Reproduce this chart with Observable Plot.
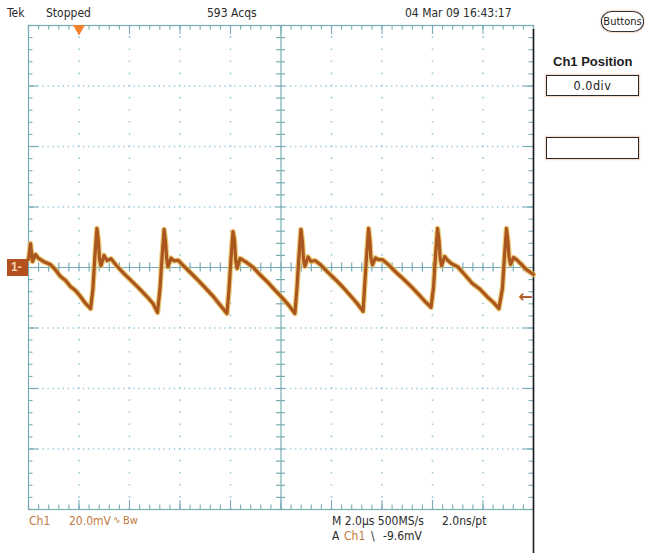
<!DOCTYPE html>
<html><head><meta charset="utf-8">
<script src="https://cdn.jsdelivr.net/npm/d3@7"></script>
<script src="https://cdn.jsdelivr.net/npm/@observablehq/plot@0.6"></script>
<style>
body{margin:0;background:#fff;}
#wrap{position:relative;width:645px;height:553px;overflow:hidden;font-family:"Liberation Sans Narrow","Arial Narrow","DejaVu Sans Condensed",sans-serif;}
#wrap svg{position:absolute;left:0;top:0;}
.t{position:absolute;white-space:nowrap;font-size:12px;line-height:1;color:#2b2b2b;}
.o{color:#c27b42;}
.box{position:absolute;box-sizing:border-box;border:1.5px solid #2a2a2a;box-shadow:0 0 1px 1px rgba(230,150,110,0.35);display:flex;align-items:center;justify-content:center;font-size:12.5px;color:#222;}
</style></head>
<body>
<div id="wrap"></div>
<script>
// ---- Data ----
const timeUs = [
  -10.00, -9.92, -9.84, -9.72, -9.60, -9.41, -9.13, -8.93, -8.73, -8.53, -8.34, -8.14, -7.94, -7.74, -7.54,
  -7.45, -7.37, -7.29, -7.23, -7.19, -7.13, -7.01, -6.89, -6.73, -6.50, -6.22, -5.90, -5.62, -5.31, -5.07, -4.89,
  -4.79, -4.71, -4.63, -4.57, -4.53, -4.48, -4.36, -4.24, -4.08, -3.84, -3.56, -3.25, -2.97, -2.65, -2.42, -2.14,
  -2.06, -1.98, -1.90, -1.84, -1.80, -1.74, -1.62, -1.50, -1.35, -1.11, -0.83, -0.51, -0.24, 0.08, 0.32, 0.55,
  0.63, 0.71, 0.79, 0.85, 0.89, 0.95, 1.07, 1.19, 1.35, 1.58, 1.86, 2.18, 2.46, 2.77, 3.01, 3.25,
  3.31, 3.39, 3.47, 3.52, 3.56, 3.62, 3.74, 3.86, 4.02, 4.26, 4.53, 4.85, 5.13, 5.45, 5.68, 5.94,
  6.04, 6.12, 6.20, 6.26, 6.30, 6.36, 6.48, 6.59, 6.75, 6.99, 7.27, 7.58, 7.86, 8.18, 8.42, 8.63,
  8.77, 8.85, 8.93, 8.99, 9.03, 9.09, 9.21, 9.33, 9.49, 9.72, 10.00
];
const ch1mV = [
  2.6, 7.9, 2.0, 4.3, 3.0, 2.0, 1.0, -0.8, -3.0, -4.3, -6.3, -7.6, -9.6, -11.9, -13.6,
  -7.2, 3.8, 12.9, 8.6, 2.8, 0.6, 4.0, 2.3, 2.9, 0.5, -2.0, -4.6, -6.9, -9.6, -11.9, -14.9,
  -6.8, 3.4, 12.6, 8.2, 3.1, 0.2, 3.1, 2.2, 2.4, 0.4, -1.9, -4.5, -7.0, -9.9, -12.3, -15.2,
  -7.4, 3.0, 11.9, 8.8, 2.9, -0.3, 3.0, 2.4, 1.6, 0.1, -2.4, -5.0, -7.5, -10.3, -12.6, -15.2,
  -7.1, 3.6, 12.6, 8.4, 2.6, 0.4, 3.5, 2.0, 2.3, 0.8, -1.6, -4.2, -6.6, -9.5, -11.8, -14.5,
  -6.5, 3.9, 12.9, 8.9, 3.2, 0.9, 3.2, 2.6, 2.6, 0.9, -1.4, -3.8, -6.1, -8.9, -11.0, -13.2,
  -6.6, 4.0, 12.9, 8.7, 3.3, 0.6, 3.6, 2.5, 1.3, 0.3, -2.3, -5.3, -7.0, -9.8, -11.6, -13.6,
  -6.9, 3.7, 12.9, 8.4, 3.6, 1.0, 3.3, 2.6, 1.3, -0.7, -2.3
];
// graticule: 10 horizontal divisions of 2.0 µs, 8 vertical divisions of 20.0 mV
const xDivs = [-10, -8, -6, -4, -2, 0, 2, 4, 6, 8, 10];
const yDivs = [-80, -60, -40, -20, 0, 20, 40, 60, 80];
const triggerPosUs = [-8];
const triggerLevelMv = [-9.6];
const headerTexts = ["Tek", "Stopped", "593 Acqs", "04 Mar 09 16:43:17"];

const data = timeUs.map((t, i) => ({t, v: ch1mV[i]}));
const xMinor = d3.range(-10, 10.001, 0.4).map(d => +d.toFixed(2));
const yMinor = d3.range(-80, 80.001, 4).map(d => +d.toFixed(2));
const xGrid = xDivs.filter(d => d !== 0 && Math.abs(d) !== 10);
const yGrid = yDivs.filter(d => d !== 0 && Math.abs(d) !== 80);

const teal = "#79adb6";
const pxX = 20 / 505;   // µs per pixel
const pxY = 160 / 484;  // mV per pixel

const chart = Plot.plot({
  width: 645, height: 553,
  marginLeft: 28, marginRight: 112, marginTop: 25, marginBottom: 44,
  x: {domain: [-10, 10], axis: null},
  y: {domain: [-80, 80], axis: null},
  style: {background: "white", overflow: "visible"},
  marks: [
    // dotted graticule
    Plot.ruleX(xGrid, {stroke: "#9ccbdc", strokeWidth: 1.6, strokeDasharray: "1.6,10.5", strokeDashoffset: 0.8}),
    Plot.ruleY(yGrid, {stroke: "#9ccbdc", strokeWidth: 1.6, strokeDasharray: "1.4,3.65", strokeDashoffset: 0.7}),
    // centre axes
    Plot.ruleX([0], {stroke: teal, strokeWidth: 1.2}),
    Plot.ruleY([0], {stroke: teal, strokeWidth: 1.2}),
    Plot.ruleX(xMinor, {y1: -4.5 * pxY, y2: 4.5 * pxY, stroke: teal, strokeWidth: 1.2}),
    Plot.ruleY(yMinor, {x1: -4.5 * pxX, x2: 4.5 * pxX, stroke: teal, strokeWidth: 1.2}),
    // border ticks
    Plot.ruleX(xMinor, {y1: 80, y2: 80 - 4.5 * pxY, stroke: teal, strokeWidth: 1.1}),
    Plot.ruleX(xMinor, {y1: -80, y2: -80 + 4.5 * pxY, stroke: teal, strokeWidth: 1.1}),
    Plot.ruleX(xDivs, {y1: 80, y2: 80 - 9 * pxY, stroke: teal, strokeWidth: 1.1}),
    Plot.ruleX(xDivs, {y1: -80, y2: -80 + 9 * pxY, stroke: teal, strokeWidth: 1.1}),
    Plot.ruleY(yMinor, {x1: -10, x2: -10 + 4.5 * pxX, stroke: teal, strokeWidth: 1.1}),
    Plot.ruleY(yMinor, {x1: 10, x2: 10 - 4.5 * pxX, stroke: teal, strokeWidth: 1.1}),
    Plot.ruleY(yDivs, {x1: -10, x2: -10 + 10 * pxX, stroke: teal, strokeWidth: 1.1}),
    Plot.ruleY(yDivs, {x1: 10, x2: 10 - 10 * pxX, stroke: teal, strokeWidth: 1.1}),
    Plot.frame({stroke: teal, strokeWidth: 1.2}),
    // right edge dark line
    Plot.ruleX([10], {stroke: "#1b1b1b", strokeWidth: 1.6, insetTop: 4, insetBottom: -44}),
    // waveform
    Plot.line(data, {x: "t", y: "v", stroke: "#e9bd55", strokeWidth: 5.5, strokeOpacity: 0.8, strokeLinejoin: "round"}),
    Plot.line(data, {x: "t", y: "v", stroke: "#a9561f", strokeWidth: 3.2, strokeLinejoin: "round"}),
    // trigger position marker
    Plot.dot(triggerPosUs, {x: d => d, y: 80, symbol: "triangle", rotate: 180, r: 4.5, fill: "#f0822e", stroke: "none", dy: 3}),
    // trigger level arrow
    Plot.text(triggerLevelMv, {x: 10, y: d => d, text: () => "←", dx: -8, fill: "#b0602a", fontSize: 17, fontFamily: "DejaVu Sans", fontWeight: "bold"})
  ]
});

const wrap = document.getElementById("wrap");
wrap.appendChild(chart);

function addText(txt, left, baseline, cls, extra) {
  const el = document.createElement("div");
  el.className = "t " + (cls || "");
  el.textContent = txt;
  el.style.left = left + "px";
  el.style.top = (baseline - 10) + "px";
  if (extra) Object.assign(el.style, extra);
  wrap.appendChild(el);
  return el;
}
// header
addText(headerTexts[0], 7, 17);
addText(headerTexts[1], 46, 17);
addText(headerTexts[2], 207, 17);
addText(headerTexts[3], 405, 17);
// footer
addText("Ch1", 29, 525, "o");
addText("20.0mV", 69, 525, "o");
addText("∿", 113, 525, "o", {fontSize: "10px"});
addText("Bw", 123, 525, "o", {fontSize: "11px"});
addText("M 2.0µs 500MS/s", 332, 525);
addText("2.0ns/pt", 442, 525);
addText("A", 332, 540);
addText("Ch1", 344, 540, "o");
addText("\\", 371, 540);
addText("-9.6mV", 383, 540);
// right panel
addText("Ch1 Position", 553, 65, "", {fontFamily: "'Liberation Sans',Arial,sans-serif", fontWeight: "bold", fontSize: "13px", color: "#1e1e1e"});
const b1 = document.createElement("div");
b1.className = "box"; b1.textContent = "0.0div";
Object.assign(b1.style, {left: "546px", top: "75px", width: "93px", height: "21px", letterSpacing: "0.5px"});
wrap.appendChild(b1);
const b2 = document.createElement("div");
b2.className = "box";
Object.assign(b2.style, {left: "546px", top: "137px", width: "93px", height: "22px"});
wrap.appendChild(b2);
const bt = document.createElement("div");
bt.className = "box"; bt.textContent = "Buttons";
Object.assign(bt.style, {left: "601px", top: "11px", width: "43px", height: "21px", borderRadius: "11px / 10px", border: "1px solid #333", fontSize: "11px"});
wrap.appendChild(bt);
// channel 1 ground marker
const y0 = chart.scale("y").apply(0);
const m = document.createElement("div");
Object.assign(m.style, {position: "absolute", left: "7px", top: (y0 - 8.5) + "px", width: "21px", height: "17px", background: "#b4501f", color: "#f6d8b8", fontSize: "12px", lineHeight: "17px", fontFamily: "'Liberation Sans',sans-serif", fontWeight: "bold", paddingLeft: "4px", boxSizing: "border-box"});
m.textContent = "1-";
wrap.appendChild(m);
</script>
</body></html>
